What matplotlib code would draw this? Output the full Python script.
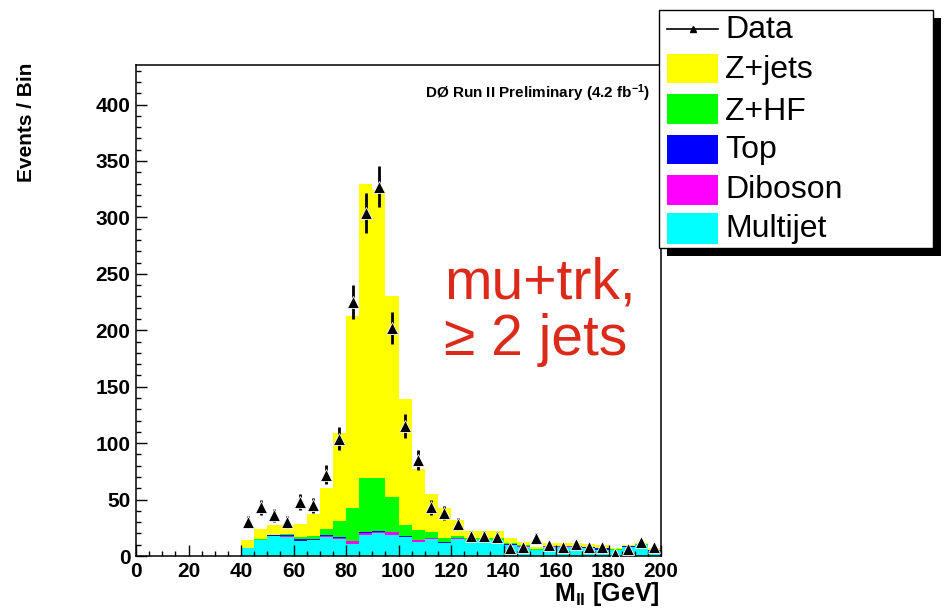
import numpy as np
import matplotlib
matplotlib.use("Agg")
import matplotlib.pyplot as plt
from matplotlib.patches import Rectangle
from matplotlib.lines import Line2D

plt.rcParams['font.family'] = ['Liberation Sans', 'DejaVu Sans']
plt.rcParams['mathtext.fontset'] = 'custom'
plt.rcParams['mathtext.rm'] = 'Liberation Sans'
plt.rcParams['mathtext.bf'] = 'Liberation Sans:bold'
plt.rcParams['mathtext.it'] = 'Liberation Sans:italic'

# ---------------- data ----------------
bin_edges = [40, 45, 50, 55, 60, 65, 70, 75, 80, 85, 90, 95, 100, 105, 110, 115,
             120, 125, 130, 135, 140, 145, 150, 155, 160, 165, 170, 175, 180, 185, 190, 195, 200]

multijet = [7, 14, 17.5, 17, 13, 14, 17, 15, 11, 19, 20.5, 18.5, 16.5, 12.7, 15.5, 11.5,
            15.5, 14, 14, 14, 9.8, 8.3, 5.3, 8.3, 8.3, 8.3, 6.8, 5.3, 5.3, 8.3, 9.8, 4.7]
diboson = [0, 0.3, 0.3, 0.3, 0.5, 0.5, 0.3, 1.3, 2, 1.5, 0.5, 2.5, 0.3, 1.5, 0.3, 0.3,
           0.3, 0.3, 0.3, 0.3, 0.2, 0.2, 0.2, 0.2, 0.2, 0.2, 0.2, 0.2, 0.1, 0.1, 0.1, 0.1]
top = [0, 0.3, 0.5, 1.5, 1.5, 1, 1.3, 0.3, 0.3, 0.5, 1.5, 0.5, 1, 0.3, 0.3, 1.0,
       0.3, 0.3, 0.3, 0.3, 0.3, 0.3, 0.2, 0.2, 0.2, 0.2, 0.6, 1.2, 0.2, 0.2, 0.1, 0.1]
zhf = [0.3, 0.5, 0.5, 0.5, 1.5, 2, 5, 14.7, 29.6, 48, 46.5, 30.5, 10, 8.5, 5, 3,
       2, 1.5, 1.5, 1.5, 1, 1, 0.5, 0.5, 0.5, 0.5, 0.5, 0.5, 0.3, 0.3, 0.2, 0.2]
zjets = [7.2, 8.5, 9, 8, 11.5, 19.5, 36.4, 78, 170, 261, 255, 178, 111, 54, 34, 27,
         14, 6, 6, 6, 4.5, 3, 2.2, 2, 2.6, 2.6, 2.5, 2.6, 0.9, 0.9, 1, 1.7]

data_x = [42.5, 47.5, 52.5, 57.5, 62.5, 67.5, 72.5, 77.5, 82.5, 87.5, 92.5, 97.5,
          102.5, 107.5, 112.5, 117.5, 122.5, 127.5, 132.5, 137.5, 142.5, 147.5,
          152.5, 157.5, 162.5, 167.5, 172.5, 177.5, 182.5, 187.5, 192.5, 197.5]
data_y = [30, 43, 36, 30, 48, 45, 72, 104, 225, 304, 327, 202, 115, 85, 43, 38,
          28, 18, 18, 17, 7, 8, 16, 10, 8, 11, 8, 8, 2, 6, 12, 8]
data_err = [5.5, 6.6, 6.0, 5.5, 6.9, 6.7, 8.5, 10.2, 15.0, 17.4, 18.1, 14.2, 10.7, 9.2, 6.6, 6.2,
            5.3, 4.2, 4.2, 4.1, 2.6, 2.8, 4.0, 3.2, 2.8, 3.3, 2.8, 2.8, 1.4, 2.4, 3.5, 2.8]

x_ticks = [0, 20, 40, 60, 80, 100, 120, 140, 160, 180, 200]
y_ticks = [0, 50, 100, 150, 200, 250, 300, 350, 400]

components = [("Multijet", multijet, "#00FFFF"),
              ("Diboson", diboson, "#FF00FF"),
              ("Top", top, "#0000FF"),
              ("Z+HF", zhf, "#00FF00"),
              ("Z+jets", zjets, "#FFFF00")]

# ---------------- figure ----------------
W, H = 946, 610
fig = plt.figure(figsize=(W / 100, H / 100), dpi=100)

def fx(px):
    return px / W

def fy(py):
    return 1 - py / H

ax_l, ax_r, ax_t, ax_b = 136, 661, 65, 556
ax = fig.add_axes([fx(ax_l), fy(ax_b), fx(ax_r - ax_l), (ax_b - ax_t) / H])

edges = np.array(bin_edges, dtype=float)
left = edges[:-1]
widths = np.diff(edges)
bottom = np.zeros(len(left))
for name, vals, col in components:
    v = np.array(vals, dtype=float)
    ax.bar(left, v, width=widths, bottom=bottom, align='edge', color=col,
           linewidth=0, edgecolor='none')
    bottom = bottom + v

ax.errorbar(data_x, data_y, yerr=data_err, fmt='^', color='black', ms=8,
            mec='white', mew=0.6, elinewidth=2.0, capsize=0, zorder=5)

ax.set_xlim(0, 200)
ax.set_ylim(0, 435)
ax.set_xticks(x_ticks)
ax.set_xticks(np.arange(0, 201, 5), minor=True)
ax.set_yticks(y_ticks)
ax.set_yticks(np.arange(0, 431, 10), minor=True)
ax.tick_params(which='both', direction='in', top=False, right=False, width=1.0, color='black')
ax.tick_params(which='major', length=8)
ax.tick_params(which='minor', length=3.5)
ax.tick_params(axis='x', which='major', pad=4)
ax.tick_params(axis='y', which='major', pad=4)
for lab in ax.get_xticklabels() + ax.get_yticklabels():
    lab.set_fontsize(15)
    lab.set_fontweight('bold')
for s in ax.spines.values():
    s.set_linewidth(1.1)

ax.text(0.98, 0.965, r"DØ Run II Preliminary (4.2 fb$^{\mathbf{-1}}$)", transform=ax.transAxes,
        ha='right', va='top', fontsize=11, fontweight='bold')

fig.text(fx(27), fy(63), "Events / Bin", rotation=90, ha='center', va='top',
         fontsize=15, fontweight='bold')
fig.text(fx(660), fy(594), r"$\mathbf{M}_{\mathbf{ll}}$ [GeV]", ha='right', va='center',
         fontsize=18, fontweight='bold')

fig.text(fx(444), fy(283), "mu+trk,", ha='left', va='center', fontsize=41, color='#DC2A1A')
fig.text(fx(444), fy(340), "≥ 2 jets", ha='left', va='center', fontsize=41, color='#DC2A1A')

# ---------------- legend ----------------
lx0, ly0, lx1, ly1 = 659, 10, 933, 248
sh = 8
fig.patches.append(Rectangle((fx(lx0 + sh), fy(ly1 + sh)), fx(lx1 - lx0), (ly1 - ly0) / H,
                             transform=fig.transFigure, facecolor='black', edgecolor='none', zorder=9))
fig.patches.append(Rectangle((fx(lx0), fy(ly1)), fx(lx1 - lx0), (ly1 - ly0) / H,
                             transform=fig.transFigure, facecolor='white', edgecolor='black',
                             linewidth=1.0, zorder=10))
legax = fig.add_axes([fx(lx0), fy(ly1), fx(lx1 - lx0), (ly1 - ly0) / H], zorder=11)
legax.set_xlim(lx0, lx1)
legax.set_ylim(ly1, ly0)
legax.axis('off')
legax.patch.set_alpha(0)

legax.add_line(Line2D([667, 718], [29, 29], color='black', lw=1.2))
legax.plot([693], [29], marker='^', color='black', ms=4)
legax.text(725, 30, "Data", ha='left', va='center', fontsize=23)

rows = [("Z+jets", "#FFFF00", 54, 83, 70),
        ("Z+HF", "#00FF00", 94, 124, 112),
        ("Top", "#0000FF", 135, 164, 150),
        ("Diboson", "#FF00FF", 175, 205, 190),
        ("Multijet", "#00FFFF", 213, 244, 229)]
for name, col, t, b, yc in rows:
    legax.add_patch(Rectangle((667, t), 51, b - t, facecolor=col, edgecolor='none'))
    legax.text(725, yc, name, ha='left', va='center', fontsize=23)

fig.savefig("out.png", dpi=100)
